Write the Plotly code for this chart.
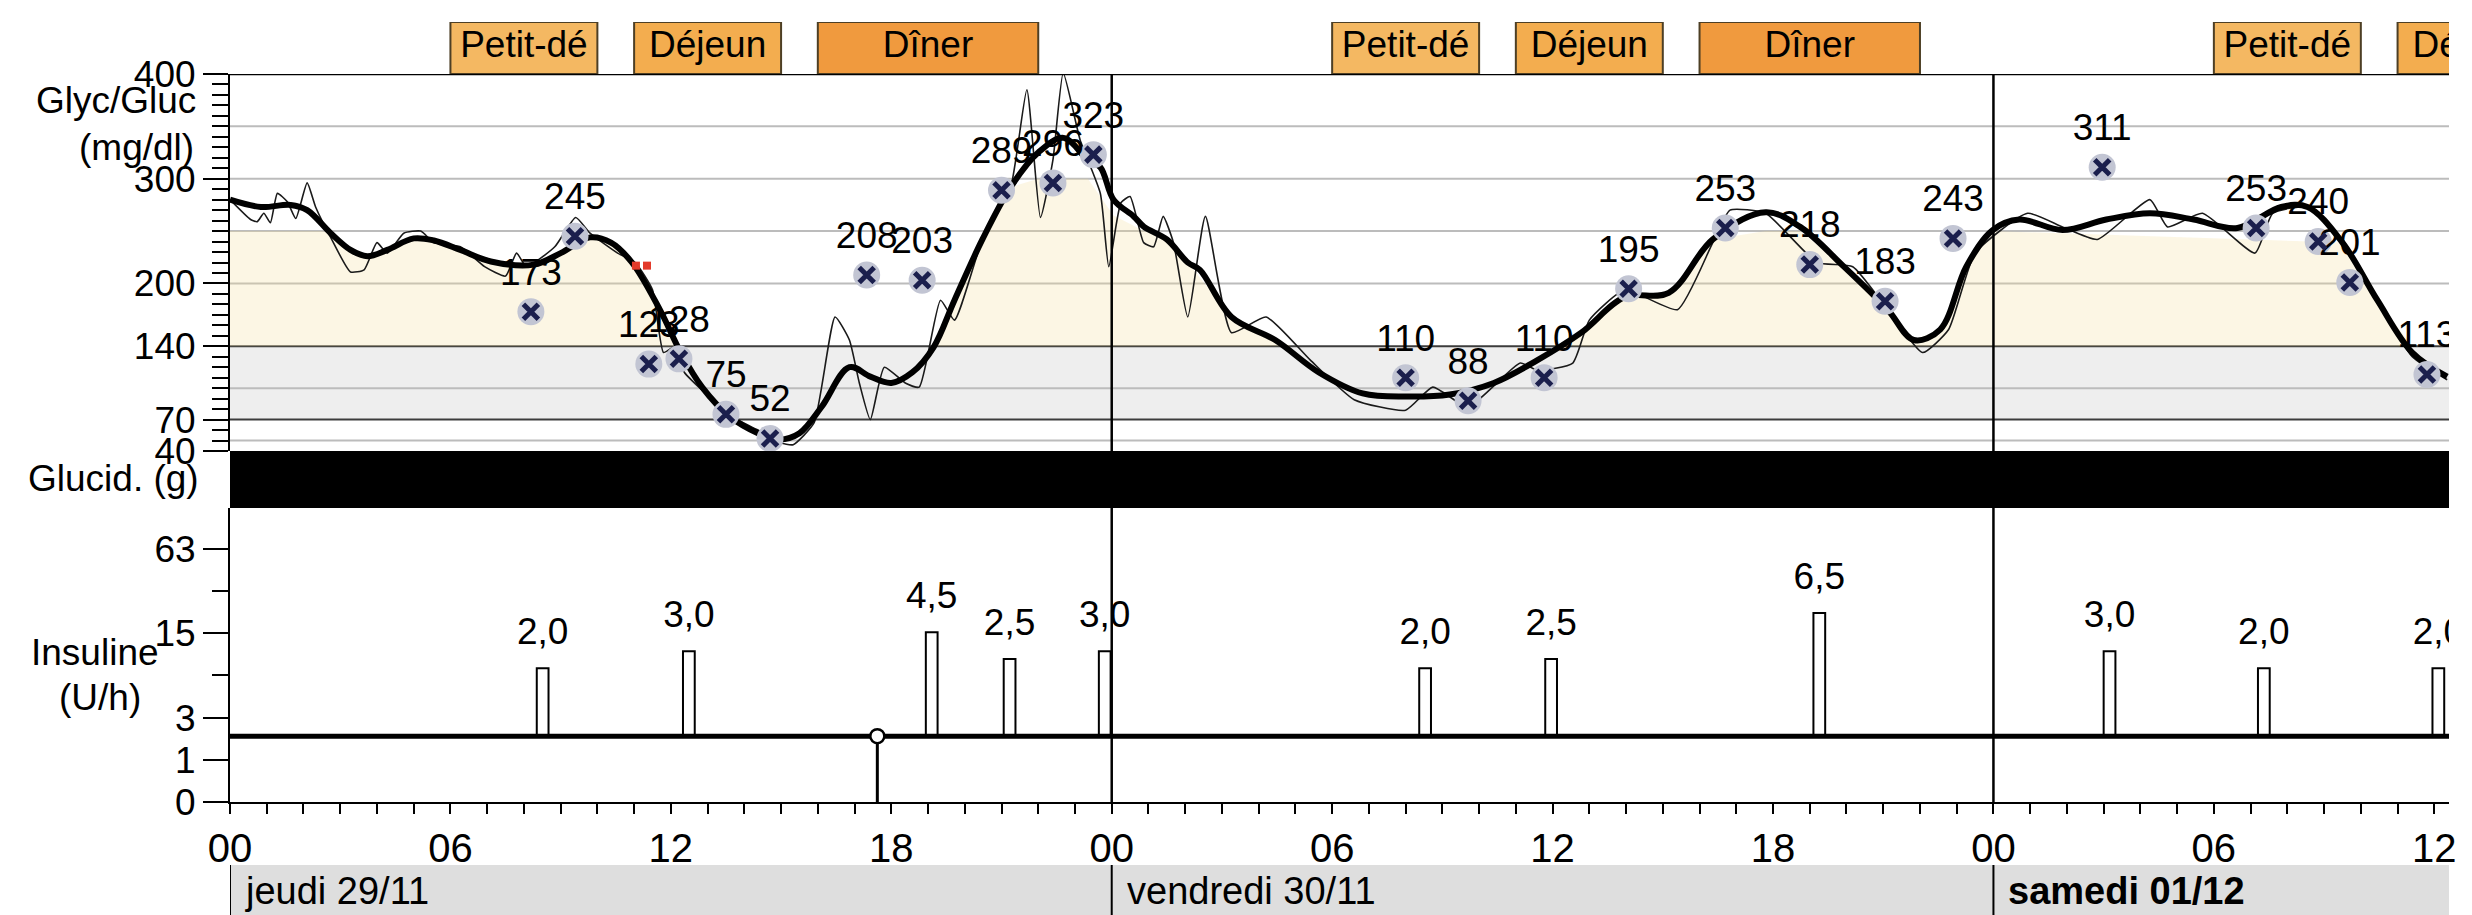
import math
import plotly.graph_objects as go

W, H = 2472, 915
PLOT_L, PLOT_R = 230, 2449
X_MAX = 60.4
FONT = "Liberation Sans, Arial, sans-serif"

# ---------------- data (hours from Thursday 00:00) ----------------
smooth_t = [0.0, 0.84, 1.65, 2.1, 2.74, 3.28, 3.74, 4.28, 5.0, 5.55, 6.27, 7.1, 8.27, 9.0, 9.8,
            10.37, 10.94, 11.7, 12.27, 12.85, 13.6, 14.37, 14.95, 15.5, 16.1, 16.86, 17.43, 18.0,
            18.57, 19.15, 19.72, 20.48, 21.25, 22.0, 22.69, 23.35, 23.69, 24.05, 24.6, 24.88, 25.5,
            26.07, 26.4, 27.26, 28.45, 29.64, 30.83, 32.02, 33.2, 34.4, 35.6, 36.78, 37.97, 39.16,
            40.36, 41.8, 42.74, 43.93, 45.12, 45.83, 46.55, 47.26, 47.98, 48.7, 49.88, 51.07, 52.26,
            53.45, 54.64, 55.83, 56.55, 57.5, 58.45, 59.4, 60.35]
smooth_g = [280, 273, 275, 270, 248, 232, 226, 232, 243, 241, 232, 221, 218, 229, 244,
            239, 220, 175, 134, 101, 73, 57, 51, 57, 82, 120, 111, 105,
            115, 139, 184, 242, 292, 325, 339, 318, 311, 280, 264, 254, 242,
            220, 213, 168, 146, 115, 95, 92, 94, 105, 127, 153, 187, 191,
            242, 268, 254, 216, 175, 146, 156, 216, 251, 261, 251, 261, 267,
            261, 253, 273, 273, 239, 184, 134, 111]

cgm_t = [0.0, 0.56, 0.74, 0.92, 1.1, 1.29, 1.56, 1.79, 2.1, 2.33, 2.74, 3.28, 3.65, 4.0, 4.28,
         4.73, 5.19, 5.55, 6.27, 6.93, 7.5, 7.8, 8.07, 8.84, 9.41, 9.8, 10.55, 11.03, 11.5, 11.8,
         12.08, 12.37, 12.85, 13.6, 14.37, 14.95, 15.33, 15.9, 16.47, 16.86, 17.13, 17.43, 17.81,
         18.38, 18.76, 19.34, 19.72, 20.48, 21.25, 21.69, 22.06, 22.4, 22.68, 23.14, 23.69, 23.92,
         24.25, 24.5, 24.87, 25.14, 25.4, 25.68, 26.07, 26.55, 27.26, 28.2, 29.4, 30.6, 32.0,
         32.74, 33.7, 35.12, 35.6, 36.55, 37.0, 37.97, 39.4, 40.36, 40.83, 41.8, 43.2, 44.17,
         45.12, 46.07, 46.78, 47.5, 48.93, 49.88, 50.83, 52.26, 52.74, 53.69, 55.12, 55.6, 56.55,
         57.5, 58.45, 59.4, 60.35]
cgm_g = [280, 261, 259, 267, 258, 286, 278, 262, 296, 273, 244, 211, 213, 239, 229,
         248, 250, 239, 235, 216, 207, 229, 216, 235, 263, 248, 229, 220, 194, 134,
         139, 115, 98, 74, 60, 48, 46, 67, 168, 146, 105, 70, 120,
         105, 101, 184, 165, 242, 292, 385, 263, 318, 401, 337, 286, 216,
         277, 283, 239, 235, 264, 239, 168, 264, 153, 168, 127, 89, 79,
         101, 82, 124, 117, 124, 165, 194, 175, 239, 270, 267, 220, 216,
         175, 134, 156, 229, 267, 254, 242, 280, 254, 267, 229, 267, 273,
         242, 184, 130, 108]

bg_t = [8.19, 9.39, 11.4, 12.22, 13.5, 14.7, 17.33, 18.84, 21.0, 22.4, 23.5,
        32.0, 33.7, 35.77, 38.07, 40.7, 43.0, 45.05, 46.9,
        50.96, 55.15, 56.84, 57.7, 59.8]
bg_v = [173, 245, 123, 128, 75, 52, 208, 203, 289, 296, 323,
        110, 88, 110, 195, 253, 218, 183, 243,
        311, 253, 240, 201, 113]

calib_t = [11.05, 11.35]
calib_v = [217, 217]

yellow_t = [0, 2.5, 2.74, 3.28, 3.74, 4.28, 5.0, 5.55, 6.27, 7.1, 8.27, 9.0, 9.8, 10.37, 10.94,
            11.7, 12.1, 19.1, 19.72, 20.48, 21.25, 22.0, 23.35, 24.05, 24.88, 25.5, 26.07,
            27.26, 28.45, 28.9, 36.4, 36.78, 37.97, 39.16, 40.36, 41.8, 42.74, 43.93, 45.12,
            45.83, 46.55, 47.26, 47.98, 57.5, 58.45, 59.4, 59.6]
yellow_top = [250, 250, 248, 232, 226, 232, 243, 241, 232, 221, 218, 229, 244, 239, 220,
              175, 140, 140, 184, 242, 292, 300, 300, 265, 250, 242, 220,
              168, 146, 140, 140, 153, 187, 191, 242, 250, 250, 216, 175,
              146, 156, 216, 250, 239, 184, 140, 140]

meal_names = ["Petit-dé", "Déjeun", "Dîner", "Petit-dé", "Déjeun", "Dîner", "Petit-dé", "Déjeun"]
meal_start = [6, 11, 16, 30, 35, 40, 54, 59]
meal_end = [10, 15, 22, 34, 39, 46, 58, 63]
meal_colors = ["#f4b862", "#f3ad4f", "#f09a3e", "#f4b862", "#f3ad4f", "#f09a3e", "#f4b862", "#f3ad4f"]

basal_rate = 1.95
bolus_t = [8.35, 12.33, 18.94, 21.06, 23.65, 32.37, 35.8, 43.1, 51.0, 55.2, 59.95]
bolus_rate = [8.0, 10.9, 15.3, 9.5, 10.9, 8.0, 9.5, 21.3, 10.9, 8.0, 8.0]
bolus_lbl = ["2,0", "3,0", "4,5", "2,5", "3,0", "2,0", "2,5", "6,5", "3,0", "2,0", "2,0"]
bolus_w = 0.32
event_t = 17.62

ins_tick_vals = [0, 1, 3, 15, 63]
ins_minor_vals = [7, 31]
glyc_tick_vals = [40, 70, 140, 200, 300, 400]
glyc_grid = [50, 100, 200, 250, 300, 350]
glyc_dark = [70, 140]

day_start = [0, 24, 48]
day_lbl = ["jeudi 29/11", "vendredi 30/11", "<b>samedi 01/12</b>"]


# ---------------- helpers ----------------
def py(px):
    return 1 - px / H


def px_x(px):
    return (px - PLOT_L) / (PLOT_R - PLOT_L)


def ins(v):
    return math.log2(1 + v)


fig = go.Figure()

# yellow zone
fig.add_trace(go.Scatter(x=yellow_t, y=[140] * len(yellow_t), mode="lines", line=dict(width=0),
                         hoverinfo="skip", showlegend=False))
fig.add_trace(go.Scatter(x=yellow_t, y=yellow_top, mode="lines", line=dict(width=0),
                         fill="tonexty", fillcolor="rgba(245,222,150,0.26)",
                         hoverinfo="skip", showlegend=False))

# CGM thin line + smoothed thick line
fig.add_trace(go.Scatter(x=cgm_t, y=cgm_g, mode="lines",
                         line=dict(color="#1a1a1a", width=1.6, shape="spline", smoothing=0.5),
                         showlegend=False))
fig.add_trace(go.Scatter(x=smooth_t, y=smooth_g, mode="lines",
                         line=dict(color="black", width=6, shape="spline", smoothing=1.0),
                         showlegend=False))

fig.add_trace(go.Scatter(x=calib_t, y=calib_v, mode="markers",
                         marker=dict(symbol="square", size=8, color="#e33b2b"), showlegend=False))

# blood glucose readings
fig.add_trace(go.Scatter(x=bg_t, y=bg_v, mode="markers+text", text=[str(v) for v in bg_v],
                         textposition="top center",
                         textfont=dict(size=37, color="black", family=FONT),
                         marker=dict(symbol="circle", size=27, color="#c2c5d3", line=dict(width=0)),
                         cliponaxis=True, showlegend=False))
fig.add_trace(go.Scatter(x=bg_t, y=bg_v, mode="markers",
                         marker=dict(symbol="x-thin", size=15, color="#1b1f4d",
                                     line=dict(width=5, color="#1b1f4d")),
                         showlegend=False))

# insulin: basal
fig.add_trace(go.Scatter(x=[0, X_MAX], y=[ins(basal_rate)] * 2, mode="lines", yaxis="y2",
                         line=dict(color="black", width=5), showlegend=False))
# bolus rectangles
bx, byv = [], []
for t, r in zip(bolus_t, bolus_rate):
    bx += [t, t, t + bolus_w, t + bolus_w, None]
    byv += [ins(basal_rate), ins(r), ins(r), ins(basal_rate), None]
fig.add_trace(go.Scatter(x=bx, y=byv, mode="lines", yaxis="y2",
                         line=dict(color="black", width=2), showlegend=False))
fig.add_trace(go.Scatter(x=[t + bolus_w / 2 for t in bolus_t], y=[ins(r) for r in bolus_rate],
                         mode="markers+text", text=bolus_lbl, textposition="top center",
                         textfont=dict(size=37, color="black", family=FONT),
                         marker=dict(size=22, opacity=0), yaxis="y2", cliponaxis=True,
                         showlegend=False))
# event marker
fig.add_trace(go.Scatter(x=[event_t, event_t], y=[0, ins(basal_rate)], mode="lines", yaxis="y2",
                         line=dict(color="black", width=3), showlegend=False))
fig.add_trace(go.Scatter(x=[event_t], y=[ins(basal_rate)], mode="markers", yaxis="y2",
                         marker=dict(symbol="circle", size=14, color="white",
                                     line=dict(color="black", width=2.5)), showlegend=False))

# meal labels
fig.add_trace(go.Scatter(x=[(a + b) / 2 for a, b in zip(meal_start, meal_end)],
                         y=[0.5] * len(meal_names), mode="text", text=meal_names,
                         textposition="middle center", yaxis="y3", cliponaxis=True,
                         textfont=dict(size=37, color="black", family=FONT), showlegend=False))

shapes = []
# gray target band
shapes.append(dict(type="rect", xref="paper", x0=0, x1=1, yref="y", y0=70, y1=140,
                   fillcolor="#eeeeee", line=dict(width=0), layer="below"))
for g in glyc_grid:
    shapes.append(dict(type="line", xref="paper", x0=0, x1=1, yref="y", y0=g, y1=g,
                       line=dict(color="#bcbcbc", width=2), layer="below"))
for g in glyc_dark:
    shapes.append(dict(type="line", xref="paper", x0=0, x1=1, yref="y", y0=g, y1=g,
                       line=dict(color="#3c3c3c", width=2), layer="below"))
# top frame
shapes.append(dict(type="line", xref="paper", x0=0, x1=1, yref="y", y0=400, y1=400,
                   line=dict(color="black", width=2.5)))
# Glucid black band
shapes.append(dict(type="rect", xref="paper", x0=0, x1=1, yref="paper", y0=py(508), y1=py(451),
                   fillcolor="black", line=dict(width=0)))
# meal boxes
for a, b, c in zip(meal_start, meal_end, meal_colors):
    shapes.append(dict(type="rect", xref="x", x0=a, x1=b, yref="y3", y0=0, y1=1,
                       fillcolor=c, line=dict(color="#4d3f25", width=2), layer="below"))
# day bar
shapes.append(dict(type="rect", xref="x", x0=0, x1=X_MAX, yref="paper", y0=py(915), y1=py(865),
                   fillcolor="#dedede", line=dict(width=0)))
for d in day_start:
    shapes.append(dict(type="line", xref="x", x0=d, x1=d, yref="paper", y0=py(915), y1=py(865),
                       line=dict(color="black", width=2)))
    if d > 0:
        shapes.append(dict(type="line", xref="x", x0=d, x1=d, yref="paper", y0=py(802), y1=py(74),
                           line=dict(color="black", width=2.5)))

annotations = []
for txt, x, y, xa in [("Glyc/Gluc", 198, 100, "right"), ("(mg/dl)", 196, 147, "right"),
                      ("Glucid. (g)", 201, 478, "right"), ("Insuline", 95, 652, "center"),
                      ("(U/h)", 100, 697, "center")]:
    annotations.append(dict(text=txt, xref="paper", yref="paper", x=px_x(x), y=py(y),
                            xanchor=xa, yanchor="middle", showarrow=False,
                            font=dict(size=37, color="black", family=FONT)))
for d, lbl in zip(day_start, day_lbl):
    annotations.append(dict(text=lbl, xref="x", yref="paper", x=d + 0.35, y=py(891),
                            xanchor="left", yanchor="middle", showarrow=False,
                            font=dict(size=38, color="black", family=FONT)))

hour_ticks = list(range(0, 61))
hour_text = [f"{h % 24:02d}" if h % 6 == 0 else "" for h in hour_ticks]

axis_common = dict(showline=True, linecolor="black", linewidth=2, showgrid=False, zeroline=False,
                   ticks="outside", tickcolor="black", tickwidth=2, ticklen=25, automargin=False,
                   tickfont=dict(size=37, color="black", family=FONT))

fig.update_layout(
    template="none",
    width=W, height=H,
    margin=dict(l=PLOT_L, r=W - PLOT_R, t=0, b=0, pad=0, autoexpand=False),
    paper_bgcolor="white", plot_bgcolor="white", showlegend=False,
    font=dict(family=FONT, size=37, color="black"),
    xaxis=dict(domain=[0, 1], anchor="y2", range=[0, X_MAX], tickmode="array",
               tickvals=hour_ticks, ticktext=hour_text, showline=True, linecolor="black",
               linewidth=2, showgrid=False, zeroline=False, ticks="outside", ticklen=10,
               tickwidth=2, tickcolor="black", automargin=False,
               tickfont=dict(size=40, color="black", family=FONT)),
    yaxis=dict(domain=[py(451), py(74)], range=[40, 400], anchor="x", tickmode="array",
               tickvals=glyc_tick_vals, ticktext=[str(v) for v in glyc_tick_vals],
               minor=dict(tickmode="linear", tick0=40, dtick=10, ticks="outside", ticklen=16,
                          tickwidth=1.5, tickcolor="black", showgrid=False),
               **axis_common),
    yaxis2=dict(domain=[py(802), py(508)], range=[0, 6.97], anchor="x", tickmode="array",
                tickvals=[ins(v) for v in ins_tick_vals], ticktext=[str(v) for v in ins_tick_vals],
                minor=dict(tickmode="array", tickvals=[ins(v) for v in ins_minor_vals],
                           ticks="outside", ticklen=16, tickwidth=1.5, tickcolor="black",
                           showgrid=False),
                **axis_common),
    yaxis3=dict(domain=[py(74), py(22)], range=[0, 1], anchor="x", visible=False,
                automargin=False),
    shapes=shapes, annotations=annotations,
)

fig.write_html("out.html", config={"displayModeBar": False},
               post_script="document.body.style.margin='0';")
